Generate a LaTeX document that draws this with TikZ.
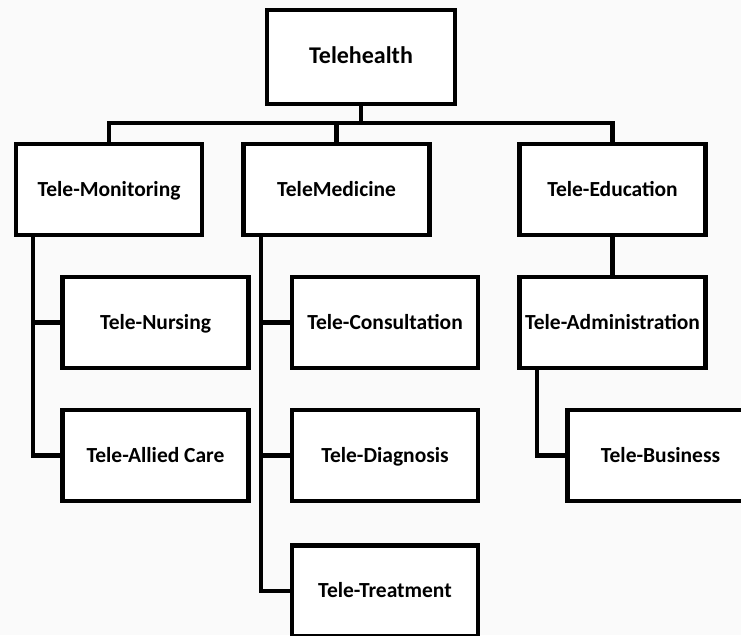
\documentclass[tikz,border=0pt]{standalone}
\usepackage{fontspec}
\setmainfont{Carlito}
\tikzset{
  unitbox/.style={draw,line width=4.5pt,fill=white,minimum width=186pt,minimum height=91pt,
    inner sep=0pt,text height=16pt,text depth=3pt,font=\fontsize{21.5}{23}\selectfont\bfseries},
  link/.style={line width=4.5pt}
}

\begin{document}
\begin{tikzpicture}[x=1pt,y=1pt]
    \fill[black!2] (0,0) rectangle (741,-635);
    \clip (0,0) rectangle (741,-635);
    \node[unitbox,minimum width=188pt,minimum height=94pt,font=\fontsize{24}{26}\selectfont\bfseries] (telehealth) at (361,-57) {Telehealth};
    \node[unitbox] (monitoring) at (109,-189.5) {Tele-Monitoring};
    \node[unitbox] (medicine) at (336.5,-189.5) {TeleMedicine};
    \node[unitbox] (education) at (612.5,-189.5) {Tele-Education};
    \node[unitbox] (nursing) at (155.5,-322.5) {Tele-Nursing};
    \node[unitbox] (allied) at (155.5,-455.5) {Tele-Allied Care};
    \node[unitbox] (consult) at (385,-322.5) {Tele-Consultation};
    \node[unitbox] (diagnosis) at (385,-455.5) {Tele-Diagnosis};
    \node[unitbox] (treatment) at (385,-591) {Tele-Treatment};
    \node[unitbox] (admin) at (612.5,-322.5) {Tele-Administration};
    \node[unitbox] (business) at (660.5,-455.5) {Tele-Business};
    \coordinate (bar) at (0,-123);
    % top level
    \draw[link] (telehealth.south) -- (telehealth.south |- bar);
    \draw[link] (monitoring.north) -- (monitoring.north |- bar) -- (education.north |- bar) -- (education.north);
    \draw[link] (medicine.north) -- (medicine.north |- bar);
    % branches
    \coordinate (monrail) at ([xshift=-76pt]monitoring.south);
    \draw[link] (allied.west) -| (monrail);
    \draw[link] (nursing.west) -- (nursing.west -| monrail);
    \coordinate (medrail) at ([xshift=-75.5pt]medicine.south);
    \draw[link] (treatment.west) -| (medrail);
    \draw[link] (consult.west) -- (consult.west -| medrail);
    \draw[link] (diagnosis.west) -- (diagnosis.west -| medrail);
    \draw[link] (education.south) -- (admin.north);
    \coordinate (adminrail) at ([xshift=-75.5pt]admin.south);
    \draw[link] (business.west) -| (adminrail);
\end{tikzpicture}
\end{document}
